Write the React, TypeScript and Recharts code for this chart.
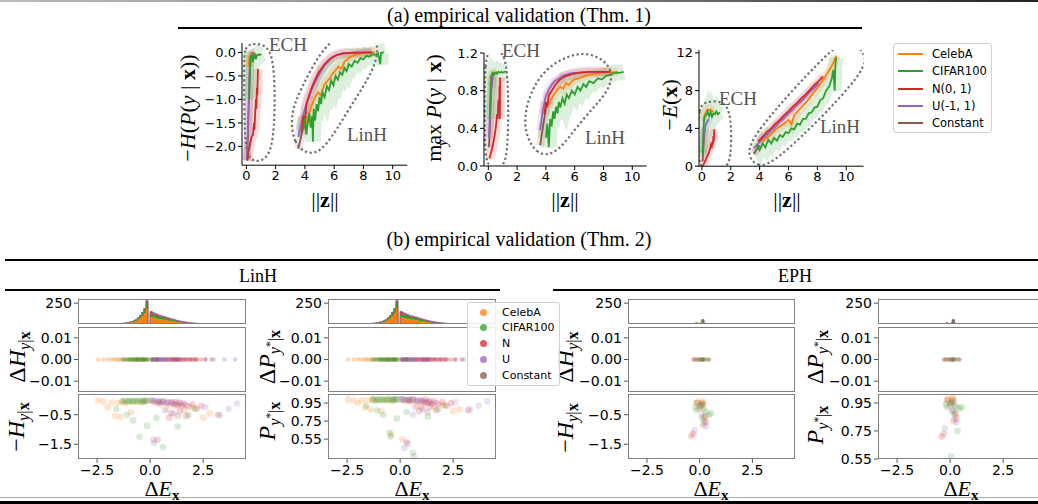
import React from 'react';
import { ComposedChart, Line, Scatter, Area, XAxis, YAxis } from 'recharts';

type Pt = [number, number];

const COLORS = { celeba: '#ff7f0e', cifar: '#2ca02c', n: '#d62728', u: '#9467bd', constant: '#8c564b' };
const SERIES_NAMES = ['CelebA', 'CIFAR100', 'N(0, 1)', 'U(-1, 1)', 'Constant'];
const SCATTER_NAMES = ['CelebA', 'CIFAR100', 'N', 'U', 'Constant'];
const SERIES_COLORS = [COLORS.celeba, COLORS.cifar, COLORS.n, COLORS.u, COLORS.constant];

const TOP_X_TICKS = [0, 2, 4, 6, 8, 10];
const NEGH_TICKS = [-2, -1.5, -1, -0.5, 0];
const MAXP_TICKS = [0, 0.4, 0.8, 1.2];
const NEGE_TICKS = [0, 4, 8, 12];

// ---------- (a) -H(P(y|x)) vs ||z|| ----------
const negH_ech_constant: Pt[] = [[0.05, -2.3], [0.1, -1.8], [0.15, -1.2], [0.2, -0.6], [0.25, -0.2], [0.3, -0.05], [0.4, 0]];
const negH_ech_celeba: Pt[] = [[0.15, -0.3], [0.2, -0.1], [0.3, -0.04], [0.4, -0.02], [0.5, -0.01], [0.6, 0]];
const negH_ech_cifar: Pt[] = [[0.2, -1.0], [0.25, -0.3], [0.3, -0.08], [0.35, -0.12], [0.4, -0.05], [0.45, -0.2], [0.5, -0.04], [0.55, -0.08], [0.6, -0.03], [0.65, -0.15], [0.7, -0.07], [0.8, -0.04], [0.9, -0.06], [1.0, -0.03]];
const negH_ech_n: Pt[] = [[0.08, -2.3], [0.15, -2.1], [0.25, -1.95], [0.35, -1.8], [0.45, -1.75], [0.52, -1.5], [0.55, -1.65], [0.6, -1.3], [0.65, -1.0], [0.68, -1.2], [0.72, -0.75], [0.75, -0.9], [0.78, -0.5], [0.8, -0.35]];
const negH_ech_u: Pt[] = [[0.04, -2.3], [0.08, -1.9], [0.11, -1.6], [0.14, -1.3], [0.18, -0.95], [0.21, -0.6], [0.25, -0.35], [0.3, -0.15], [0.35, -0.06], [0.45, -0.02], [0.55, -0.01]];
const negH_lin_constant: Pt[] = [[3.55, -2.05], [3.7, -1.85], [3.85, -1.6], [4.0, -1.35]];
const negH_lin_celeba: Pt[] = [[4.1, -1.5], [4.3, -1.28], [4.5, -1.1], [4.7, -0.95], [4.9, -0.85], [5.1, -0.92], [5.3, -0.7], [5.5, -0.62], [5.7, -0.55], [5.9, -0.45], [6.1, -0.38], [6.3, -0.3], [6.5, -0.35], [6.7, -0.2], [7.0, -0.12], [7.3, -0.07], [7.7, -0.03], [8.2, -0.01], [8.8, 0]];
const negH_lin_cifar: Pt[] = [[3.9, -1.65], [4.0, -1.4], [4.1, -1.75], [4.2, -1.5], [4.3, -1.3], [4.4, -1.6], [4.5, -1.35], [4.55, -1.9], [4.6, -1.2], [4.7, -1.45], [4.8, -1.1], [4.9, -1.25], [5.0, -0.95], [5.1, -1.1], [5.2, -0.85], [5.35, -0.95], [5.5, -0.72], [5.65, -0.8], [5.8, -0.6], [5.95, -0.7], [6.1, -0.5], [6.25, -0.58], [6.4, -0.42], [6.55, -0.48], [6.7, -0.33], [6.85, -0.4], [7.0, -0.25], [7.2, -0.3], [7.4, -0.18], [7.6, -0.22], [7.8, -0.12], [8.0, -0.15], [8.2, -0.07], [8.4, -0.09], [8.6, -0.04], [8.8, -0.05], [9.0, -0.02], [9.15, -0.25], [9.2, -0.01], [9.4, 0]];
const negH_lin_n: Pt[] = [[3.8, -1.7], [3.9, -1.35], [4.0, -1.5], [4.1, -1.1], [4.3, -0.9], [4.5, -0.72], [4.7, -0.58], [4.9, -0.45], [5.1, -0.36], [5.3, -0.27], [5.6, -0.17], [5.9, -0.1], [6.2, -0.05], [6.6, -0.02], [7.2, -0.01], [8.6, 0]];
const negH_lin_u: Pt[] = [[3.55, -1.8], [3.7, -1.6], [3.85, -1.38], [4.0, -1.2], [4.2, -1.02], [4.4, -0.85], [4.6, -0.7], [4.8, -0.57], [5.0, -0.45], [5.25, -0.32], [5.5, -0.22], [5.8, -0.13], [6.1, -0.07], [6.5, -0.03], [7.0, -0.01], [7.5, 0], [8.5, 0]];
const negH_outline_ech: Pt[] = [[-0.15, -0.3], [-0.15, 0.12], [0.5, 0.2], [1.5, 0.15], [1.95, -0.3], [1.95, -1.7], [1.5, -2.3], [0.3, -2.35], [-0.15, -2.0]];
const negH_outline_lin: Pt[] = [[3.0, -1.3], [3.2, -1.95], [4.3, -2.2], [5.4, -2.05], [7.0, -1.2], [8.8, -0.35], [9.1, 0.2], [8.3, 0.4], [6.5, 0.45], [5.0, 0.0], [3.7, -0.8]];

// ---------- (a) max_y P(y|x) vs ||z|| ----------
const maxP_ech_constant: Pt[] = [[0.05, 0.2], [0.1, 0.4], [0.15, 0.6], [0.2, 0.8], [0.3, 0.95]];
const maxP_ech_celeba: Pt[] = [[0.15, 0.85], [0.2, 0.95], [0.3, 0.98], [0.45, 0.99], [0.6, 1.0]];
const maxP_ech_cifar: Pt[] = [[0.1, 0.5], [0.15, 0.8], [0.2, 0.95], [0.3, 0.99], [0.4, 0.97], [0.5, 0.99], [0.6, 0.98], [0.7, 1.0], [0.8, 0.99], [0.9, 1.0], [1.0, 0.99], [1.1, 1.0], [1.3, 1.0]];
const maxP_ech_n: Pt[] = [[0.08, 0.08], [0.15, 0.12], [0.25, 0.18], [0.35, 0.25], [0.45, 0.33], [0.55, 0.45], [0.6, 0.55], [0.65, 0.5], [0.7, 0.7], [0.75, 0.6], [0.78, 0.85], [0.8, 0.5], [0.82, 0.94]];
const maxP_ech_u: Pt[] = [[0.04, 0.3], [0.08, 0.45], [0.12, 0.6], [0.16, 0.72], [0.2, 0.82], [0.25, 0.9], [0.3, 0.95], [0.4, 0.98], [0.55, 0.99]];
const maxP_lin_constant: Pt[] = [[3.6, 0.22], [3.7, 0.32], [3.8, 0.42], [3.9, 0.52], [4.0, 0.62]];
const maxP_lin_celeba: Pt[] = [[4.2, 0.65], [4.4, 0.72], [4.6, 0.77], [4.8, 0.81], [5.0, 0.84], [5.2, 0.82], [5.4, 0.88], [5.6, 0.86], [5.8, 0.9], [6.0, 0.92], [6.3, 0.93], [6.6, 0.95], [7.0, 0.97], [7.5, 0.98], [8.0, 0.99], [9.0, 1.0]];
const maxP_lin_cifar: Pt[] = [[4.0, 0.3], [4.1, 0.45], [4.2, 0.2], [4.3, 0.5], [4.4, 0.42], [4.5, 0.58], [4.6, 0.5], [4.7, 0.63], [4.8, 0.56], [4.9, 0.68], [5.0, 0.62], [5.15, 0.72], [5.3, 0.66], [5.45, 0.76], [5.6, 0.72], [5.8, 0.8], [6.0, 0.76], [6.2, 0.84], [6.4, 0.8], [6.6, 0.87], [6.8, 0.84], [7.0, 0.9], [7.3, 0.88], [7.6, 0.93], [7.9, 0.92], [8.2, 0.96], [8.5, 0.97], [8.8, 0.99], [9.1, 0.99], [9.4, 1.0]];
const maxP_lin_n: Pt[] = [[3.9, 0.55], [4.0, 0.68], [4.1, 0.62], [4.2, 0.75], [4.4, 0.8], [4.6, 0.85], [4.8, 0.89], [5.0, 0.92], [5.3, 0.95], [5.7, 0.97], [6.2, 0.99], [7.0, 1.0], [8.5, 1.0]];
const maxP_lin_u: Pt[] = [[3.6, 0.38], [3.7, 0.5], [3.8, 0.6], [3.9, 0.68], [4.0, 0.74], [4.2, 0.81], [4.4, 0.86], [4.6, 0.9], [4.9, 0.93], [5.2, 0.96], [5.6, 0.98], [6.0, 0.99], [7.0, 1.0], [8.2, 1.0]];
const maxP_outline_ech: Pt[] = [[-0.25, 0.6], [-0.25, 1.12], [0.1, 1.24], [0.9, 1.24], [1.4, 1.05], [1.4, 0.15], [1.0, -0.03], [0.1, -0.03], [-0.25, 0.1]];
const maxP_outline_lin: Pt[] = [[2.2, 0.45], [3.3, 0.1], [4.8, 0.12], [6.5, 0.5], [8.5, 0.8], [8.7, 1.06], [7.0, 1.22], [5.2, 1.16], [3.3, 0.95]];

// ---------- (a) -E(x) vs ||z|| ----------
const negE_ech_constant: Pt[] = [[0.05, 0.5], [0.1, 1.8], [0.15, 3.0], [0.2, 4.0]];
const negE_ech_celeba: Pt[] = [[0.1, 4.8], [0.2, 5.5], [0.3, 5.8], [0.4, 6.0], [0.5, 5.9], [0.6, 6.0], [0.7, 5.8], [0.8, 5.9]];
const negE_ech_cifar: Pt[] = [[0.05, 1.2], [0.1, 3.5], [0.15, 4.8], [0.2, 5.3], [0.3, 5.4], [0.4, 5.8], [0.5, 5.3], [0.6, 5.7], [0.7, 5.2], [0.8, 5.6], [0.9, 5.5], [1.0, 5.8], [1.1, 5.5], [1.25, 5.7]];
const negE_ech_n: Pt[] = [[0.05, 0.0], [0.15, 0.3], [0.25, 0.6], [0.35, 1.0], [0.45, 1.3], [0.55, 1.7], [0.62, 2.2], [0.68, 1.9], [0.72, 2.6], [0.76, 2.3], [0.8, 3.2], [0.83, 2.6], [0.86, 3.9]];
const negE_ech_u: Pt[] = [[0.04, 1.5], [0.08, 2.3], [0.12, 3.0], [0.17, 3.6], [0.22, 4.1], [0.3, 4.5], [0.4, 4.8], [0.5, 5.0]];
const negE_lin_constant: Pt[] = [[3.6, 1.3], [3.8, 1.8], [4.0, 2.2]];
const negE_lin_celeba: Pt[] = [[4.2, 2.6], [4.5, 3.0], [4.8, 3.4], [5.1, 3.9], [5.4, 4.2], [5.7, 4.5], [6.0, 4.9], [6.2, 4.4], [6.4, 5.4], [6.7, 5.9], [7.0, 6.4], [7.3, 6.9], [7.6, 7.5], [7.9, 8.1], [8.2, 8.7], [8.5, 9.4], [8.8, 10.1], [9.1, 10.9], [9.3, 11.7]];
const negE_lin_cifar: Pt[] = [[3.8, 2.3], [4.0, 1.7], [4.2, 2.4], [4.4, 2.0], [4.6, 2.8], [4.8, 2.4], [5.0, 3.0], [5.2, 2.7], [5.4, 3.3], [5.6, 3.1], [5.8, 3.6], [6.0, 3.5], [6.2, 4.0], [6.4, 3.9], [6.6, 4.5], [6.8, 4.4], [7.0, 5.0], [7.2, 5.0], [7.4, 5.6], [7.6, 5.7], [7.8, 6.2], [8.0, 6.3], [8.2, 7.0], [8.4, 7.2], [8.6, 8.0], [8.8, 8.4], [9.0, 9.3], [9.1, 10.2], [9.2, 8.0], [9.25, 10.8], [9.3, 11.5]];
const negE_lin_n: Pt[] = [[3.9, 2.6], [4.2, 3.1], [4.5, 3.6], [4.8, 4.0], [5.1, 4.5], [5.4, 4.9], [5.7, 5.4], [6.0, 5.8], [6.3, 6.3], [6.6, 6.7], [6.9, 7.2], [7.2, 7.6], [7.5, 8.1], [7.8, 8.6], [8.1, 9.0], [8.4, 9.5]];
const negE_lin_u: Pt[] = [[3.6, 1.9], [3.9, 2.4], [4.2, 2.9], [4.5, 3.3], [4.8, 3.8], [5.1, 4.2], [5.4, 4.7], [5.7, 5.1], [6.0, 5.6], [6.3, 6.0], [6.6, 6.5], [6.9, 6.9], [7.2, 7.4], [7.5, 7.9], [7.8, 8.3], [8.1, 8.8]];
const negE_outline_ech: Pt[] = [[-0.25, 3.0], [-0.25, 6.2], [0.3, 6.9], [1.5, 6.9], [2.05, 5.6], [2.05, 0.5], [1.5, -0.4], [0.1, -0.4], [-0.25, 0.5]];
const negE_outline_lin: Pt[] = [[3.2, 1.0], [3.8, 0.0], [5.0, 0.1], [11.3, 9.8], [11.4, 11.9], [10.3, 13.4], [9.3, 13.1], [3.3, 3.1]];

// ---------- (b) histogram of ΔE_x ----------
const histBins = [-1.95, -1.85, -1.75, -1.65, -1.55, -1.45, -1.35, -1.25, -1.15, -1.05, -0.95, -0.85, -0.75, -0.65, -0.55, -0.45, -0.35, -0.25, -0.15, -0.05, 0.05, 0.15, 0.25, 0.35, 0.45, 0.55, 0.65, 0.75, 0.85, 0.95, 1.05, 1.15, 1.25, 1.35, 1.45, 1.55, 1.65, 1.75, 1.85, 1.95, 2.05, 2.15, 2.25, 2.35, 2.45, 2.55, 2.65, 2.75, 2.85, 2.95];
const histCelebA = [1, 1, 2, 2, 3, 3, 5, 6, 8, 11, 15, 20, 27, 37, 50, 70, 95, 125, 190, 0, 85, 77, 70, 64, 58, 54, 50, 46, 42, 37, 33, 29, 25, 22, 19, 16, 13, 11, 9, 7, 6, 5, 4, 3, 2, 2, 1, 1, 1, 0];
const histCifar = [1, 1, 1, 1, 1, 2, 2, 3, 4, 5, 6, 9, 12, 16, 22, 31, 41, 55, 80, 0, 45, 40, 36, 33, 30, 27, 25, 23, 20, 18, 15, 13, 11, 9, 7, 6, 5, 4, 3, 3, 2, 2, 1, 1, 1, 0, 0, 0, 0, 0];
const histN = [0, 0, 0, 0, 0, 0, 0, 0, 0, 0, 1, 1, 1, 2, 3, 4, 4, 5, 10, 0, 13, 12, 11, 11, 10, 10, 9, 9, 8, 8, 7, 7, 6, 6, 5, 5, 4, 4, 3, 3, 2, 2, 2, 1, 1, 1, 1, 1, 1, 1];
const histU = [0, 0, 0, 0, 0, 0, 0, 0, 0, 0, 0, 0, 0, 0, 0, 0, 0, 0, 0, 0, 12, 11, 11, 10, 10, 9, 9, 8, 8, 7, 7, 6, 6, 5, 5, 4, 4, 3, 3, 2, 2, 1, 1, 1, 1, 1, 1, 0, 0, 0];

const ephBins = [-0.45, -0.35, -0.25, -0.15, -0.05, 0.05, 0.15, 0.25, 0.35, 0.45];
const ephCelebA = [0, 0, 3, 10, 0, 4, 8, 0, 0, 0];
const ephCifar = [0, 0, 0, 2, 0, 6, 40, 8, 2, 0];
const ephN = [0, 1, 0, 1, 0, 0, 3, 1, 0, 0];
const ephU = [0, 0, 1, 0, 0, 0, 2, 0, 0, 0];

// ---------- (b) middle rows: Δ values are all 0, only ΔE_x varies ----------
const linMidCelebA = [-2.45, -2.2, -2.0, -1.85, -1.7, -1.6, -1.5, -1.4, -1.3, -1.2, -1.1, -1.0, -0.9, -0.8, -0.7, -0.6, -0.5, -0.4, -0.3, -0.2, -0.1, 0.1, 0.3, 0.5, 0.7, 0.9, 1.1, 1.3, 1.6, 1.9, 2.2];
const linMidCifar = [-1.3, -1.2, -1.1, -1.0, -0.95, -0.9, -0.85, -0.8, -0.75, -0.7, -0.65, -0.6, -0.55, -0.5, -0.45, -0.4, -0.35, -0.3, -0.25, -0.2, -0.15, -0.1, 0.1, 0.2, 0.3, 0.4, 0.6];
const linMidN = [0.3, 0.5, 0.7, 0.8, 0.9, 1.0, 1.05, 1.1, 1.15, 1.2, 1.25, 1.3, 1.35, 1.4, 1.5, 1.6, 1.7, 1.8, 1.9, 2.0, 2.1, 2.2, 2.4, 2.6, 2.9];
const linMidU = [0.05, 0.1, 0.15, 0.2, 0.25, 0.3, 0.35, 0.4, 0.45, 0.5, 0.55, 0.6, 0.65, 0.7, 0.75, 0.8, 0.9, 1.0, 1.1, 1.2, 1.3, 1.4, 1.5, 1.7, 1.9, 2.1, 2.6, 3.0, 3.5, 4.0];
const linMidConstant = [-0.6, -0.3, 0.1, 0.3];
const ephMidCelebA = [-0.2, -0.1, 0.05, 0.1];
const ephMidCifar = [-0.15, 0.0, 0.1, 0.2, 0.3, 0.4];
const ephMidN = [-0.3, 0.2, 0.45];
const ephMidU = [-0.25, 0.15];
const ephMidConstant = [-0.05, 0.12];

// ---------- (b) bottom rows ----------
const linH_celeba: Pt[] = [[-2.45, -0.02], [-2.2, -0.05], [-2.0, -0.25], [-1.8, -0.08], [-1.65, -0.55], [-1.5, -0.1], [-1.4, -0.58], [-1.3, -0.05], [-1.2, -0.12], [-1.0, -0.06], [-0.9, -0.42], [-0.8, -0.08], [-0.6, -0.05], [-0.4, -0.1], [-0.2, -0.04], [0.2, -0.1], [0.5, -0.15], [0.8, -0.3], [1.2, -0.2], [1.6, -0.35], [2.0, -0.25], [2.5, -0.6], [2.8, -0.45]];
const linH_cifar: Pt[] = [[-1.3, -0.05], [-1.2, -0.03], [-1.1, -0.06], [-1.0, -0.02], [-0.9, -0.04], [-0.8, -0.05], [-0.7, -0.02], [-0.6, -0.06], [-0.5, -0.03], [-0.4, -0.05], [-0.3, -0.02], [-0.2, -0.04], [-0.1, -0.03], [-1.6, -0.3], [-1.1, -0.5], [-0.8, -0.7], [-0.5, -1.25], [-0.15, -0.88], [0.3, -0.6], [0.6, -1.6], [1.3, -0.9], [1.8, -0.5], [2.1, -0.3]];
const linH_n: Pt[] = [[0.4, -0.1], [0.6, -0.05], [0.8, -0.12], [1.0, -0.08], [1.1, -0.15], [1.2, -0.06], [1.3, -0.18], [1.4, -0.1], [1.5, -0.2], [1.6, -0.12], [1.8, -0.22], [2.0, -0.15], [2.2, -0.3], [2.4, -0.2], [1.0, -0.45], [1.4, -0.38], [0.9, -0.6], [1.7, -0.55], [3.2, -0.5], [0.35, -1.35]];
const linH_u: Pt[] = [[0.05, -0.02], [0.15, -0.04], [0.25, -0.03], [0.35, -0.06], [0.45, -0.04], [0.55, -0.08], [0.65, -0.05], [0.75, -0.1], [0.85, -0.06], [0.95, -0.12], [1.05, -0.09], [1.2, -0.14], [1.35, -0.1], [1.5, -0.16], [1.7, -0.18], [0.7, -0.35], [1.1, -0.45], [0.2, -1.45], [0.15, -1.35], [3.3, -0.52], [4.1, -0.12], [3.7, -0.3], [2.6, -0.25]];
const linH_constant: Pt[] = [[-0.3, -0.05], [0.1, -0.02], [0.4, -0.08], [1.3, -0.55]];

const linP_celeba: Pt[] = [[-2.45, 0.99], [-2.2, 0.98], [-2.0, 0.95], [-1.8, 0.98], [-1.65, 0.9], [-1.5, 0.98], [-1.4, 0.88], [-1.3, 0.99], [-1.2, 0.97], [-1.0, 0.98], [-0.9, 0.86], [-0.8, 0.98], [-0.6, 0.99], [-0.4, 0.97], [-0.2, 0.99], [0.2, 0.97], [0.5, 0.96], [0.8, 0.92], [1.2, 0.95], [1.6, 0.9], [2.0, 0.93], [2.5, 0.86], [2.8, 0.88], [0.1, 0.55], [-0.4, 0.6]];
const linP_cifar: Pt[] = [[-1.3, 0.99], [-1.2, 0.99], [-1.1, 0.98], [-1.0, 0.99], [-0.9, 0.99], [-0.8, 0.98], [-0.7, 0.99], [-0.6, 0.98], [-0.5, 0.99], [-0.4, 0.99], [-0.3, 0.98], [-0.2, 0.99], [-0.1, 0.99], [-1.6, 0.92], [-1.1, 0.87], [-0.8, 0.82], [-0.5, 0.62], [-0.15, 0.78], [0.3, 0.85], [0.6, 0.4], [1.3, 0.8], [1.8, 0.88], [2.1, 0.92], [-0.45, 0.58]];
const linP_n: Pt[] = [[0.4, 0.98], [0.6, 0.99], [0.8, 0.97], [1.0, 0.98], [1.1, 0.96], [1.2, 0.99], [1.3, 0.95], [1.4, 0.97], [1.5, 0.94], [1.6, 0.97], [1.8, 0.94], [2.0, 0.96], [2.2, 0.92], [2.4, 0.95], [1.0, 0.9], [1.4, 0.91], [0.9, 0.86], [1.7, 0.87], [3.2, 0.87], [0.35, 0.5]];
const linP_u: Pt[] = [[0.05, 0.99], [0.15, 0.99], [0.25, 0.99], [0.35, 0.98], [0.45, 0.99], [0.55, 0.98], [0.65, 0.99], [0.75, 0.97], [0.85, 0.98], [0.95, 0.97], [1.05, 0.97], [1.2, 0.96], [1.35, 0.97], [1.5, 0.95], [1.7, 0.95], [0.7, 0.9], [1.1, 0.88], [0.2, 0.45], [0.3, 0.52], [3.3, 0.88], [4.1, 0.97], [3.7, 0.92], [2.6, 0.96], [0.6, 0.82], [0.65, 0.36]];
const linP_constant: Pt[] = [[-0.3, 0.99], [0.1, 0.99], [0.4, 0.98], [1.3, 0.85]];

const ephH_celeba: Pt[] = [[-0.15, -0.1], [-0.1, -0.08], [0.1, -0.1], [0.15, -0.05], [0.2, -0.15], [0.25, -0.6], [0.15, -0.85]];
const ephH_cifar: Pt[] = [[-0.2, -0.25], [-0.15, -0.35], [0.0, -0.2], [0.1, -0.15], [0.2, -0.3], [0.3, -0.4], [0.45, -0.5], [0.55, -0.45], [0.2, -0.7], [0.1, -0.6]];
const ephH_n: Pt[] = [[-0.4, -1.22], [-0.3, -1.15], [0.25, -0.55], [0.3, -0.75], [0.0, -0.3]];
const ephH_u: Pt[] = [[-0.25, -1.02], [0.2, -0.8], [0.3, -0.9], [0.1, -0.5]];
const ephH_constant: Pt[] = [[-0.12, -0.1], [0.12, -0.12], [0.08, -0.2]];

const ephP_celeba: Pt[] = [[-0.15, 0.97], [-0.1, 0.98], [0.1, 0.98], [0.15, 0.99], [0.2, 0.96], [0.25, 0.86], [0.15, 0.82]];
const ephP_cifar: Pt[] = [[-0.2, 0.94], [-0.15, 0.92], [0.0, 0.95], [0.1, 0.96], [0.2, 0.93], [0.3, 0.92], [0.45, 0.91], [0.55, 0.92], [0.2, 0.87], [0.1, 0.89], [0.05, 0.57], [0.35, 0.75]];
const ephP_n: Pt[] = [[-0.4, 0.71], [-0.3, 0.73], [0.25, 0.88], [0.3, 0.84], [0.0, 0.93]];
const ephP_u: Pt[] = [[-0.25, 0.77], [0.2, 0.83], [0.3, 0.81], [0.1, 0.9]];
const ephP_constant: Pt[] = [[-0.12, 0.97], [0.12, 0.97], [0.08, 0.95]];

const B_X_TICKS = [-2.5, 0, 2.5];
const HIST_TICKS = [250];
const MID_TICKS = [-0.01, 0, 0.01];
const H_TICKS = [-1.5, -0.5];
const P_TICKS_LIN = [0.55, 0.75, 0.95];
const P_TICKS_EPH = [0.55, 0.75, 0.95];

// ---------- helpers ----------
const SANS = '"DejaVu Sans", sans-serif';
const SERIF = '"Liberation Serif", "DejaVu Serif", serif';
const fmt = (d: number) => (v: number) => (v < 0 ? '\u2212' : '') + Math.abs(v).toFixed(d);
const toObjs = (p: Pt[]) => p.map(([x, y]) => ({ x, y }));

type Rect = { l: number; r: number; t: number; b: number };

type TopSeries = { color: string; ech: Pt[]; lin: Pt[]; band: number };

function TopPanel(props: {
  plot: Rect; xDomain: [number, number]; yDomain: [number, number]; yTicks: number[]; yDec: number;
  series: TopSeries[]; outlines: Pt[][];
}) {
  const { plot, xDomain, yDomain, yTicks, yDec, series, outlines } = props;
  const yw = 52, mt = 14, mr = 10, xh = 26;
  const width = plot.r - plot.l + yw + mr;
  const height = plot.b - plot.t + mt + xh;
  const els: React.ReactElement[] = [];
  series.forEach((s, i) => {
    [s.ech, s.lin].forEach((pts, j) => {
      els.push(<Line key={`b${i}-${j}`} data={toObjs(pts)} dataKey="y" type="linear" stroke={s.color} strokeOpacity={0.16} strokeWidth={s.band} dot={false} isAnimationActive={false} />);
    });
  });
  series.forEach((s, i) => {
    [s.ech, s.lin].forEach((pts, j) => {
      els.push(<Line key={`l${i}-${j}`} data={toObjs(pts)} dataKey="y" type="linear" stroke={s.color} strokeWidth={1.8} dot={false} isAnimationActive={false} />);
    });
  });
  outlines.forEach((o, i) => {
    els.push(<Line key={`o${i}`} data={toObjs(o)} dataKey="y" type="basisClosed" stroke="#6e6e6e" strokeWidth={2.2} strokeDasharray="2.2 2.6" dot={false} isAnimationActive={false} />);
  });
  return (
    <div style={{ position: 'absolute', left: plot.l - yw, top: plot.t - mt }}>
      <ComposedChart width={width} height={height} margin={{ top: mt, right: mr, left: 0, bottom: 0 }}>
        <XAxis type="number" dataKey="x" domain={xDomain} allowDataOverflow ticks={TOP_X_TICKS} interval={0} height={xh}
          tickSize={4} axisLine={{ stroke: '#000' }} tickLine={{ stroke: '#000' }}
          tick={{ fill: '#000', fontSize: 13, fontFamily: SANS }} />
        <YAxis type="number" dataKey="y" domain={yDomain} allowDataOverflow ticks={yTicks} interval={0} width={yw}
          tickSize={4} axisLine={{ stroke: '#000' }} tickLine={{ stroke: '#000' }} tickFormatter={fmt(yDec)}
          tick={{ fill: '#000', fontSize: 13, fontFamily: SANS }} />
        {els}
      </ComposedChart>
    </div>
  );
}

const B_X_DOMAIN: [number, number] = [-3.4, 4.52];
const GRAY = '#808080';

function BottomPanel(props: {
  plot: Rect; yDomain: [number, number]; yTicks: number[]; yFmt: (v: number) => string; showX: boolean;
  data?: any[]; children: React.ReactElement[];
}) {
  const { plot, yDomain, yTicks, yFmt, showX, data, children } = props;
  const yw = 72, mt = 10, mr = 2;
  const xh = showX ? 24 : 5;
  const width = plot.r - plot.l + yw + mr;
  const height = plot.b - plot.t + mt + xh;
  return (
    <>
      <div style={{ position: 'absolute', left: plot.l - yw, top: plot.t - mt }}>
        <ComposedChart width={width} height={height} data={data} margin={{ top: mt, right: mr, left: 0, bottom: 0 }}>
          <XAxis type="number" dataKey="x" domain={B_X_DOMAIN} allowDataOverflow ticks={B_X_TICKS} interval={0} height={xh}
            tickSize={4} axisLine={false} tickLine={{ stroke: '#555' }} tickFormatter={fmt(1)}
            tick={showX ? { fill: '#000', fontSize: 14, fontFamily: SANS } : false} />
          <YAxis type="number" dataKey="y" domain={yDomain} allowDataOverflow ticks={yTicks} interval={0} width={yw}
            tickSize={4} axisLine={false} tickLine={{ stroke: '#555' }} tickFormatter={yFmt}
            tick={{ fill: '#000', fontSize: 14, fontFamily: SANS }} />
          {children}
        </ComposedChart>
      </div>
      <div style={{ position: 'absolute', left: plot.l, top: plot.t, width: plot.r - plot.l, height: plot.b - plot.t, border: `1px solid ${GRAY}`, boxSizing: 'border-box', pointerEvents: 'none' }} />
    </>
  );
}

function histRows(bins: number[], a: number[], b: number[], c: number[], d: number[]) {
  return bins.map((x, i) => ({ x, celeba: a[i], cifar: b[i], n: c[i], u: d[i] }));
}

function histAreas() {
  return ['celeba', 'cifar', 'n', 'u'].map((k, i) => (
    <Area key={k} dataKey={k} stackId="h" type="step" fill={SERIES_COLORS[i]} fillOpacity={1} stroke={SERIES_COLORS[i]} strokeWidth={0.5} dot={false} activeDot={false} isAnimationActive={false} />
  ));
}

function dotShape(color: string, r: number, op: number) {
  return (p: any) => <circle cx={p.cx} cy={p.cy} r={r} fill={color} fillOpacity={op} />;
}

function midScatter(xs: number[][]) {
  return xs.map((arr, i) => (
    <Scatter key={`m${i}`} data={arr.map((x) => ({ x, y: 0 }))} dataKey="y" shape={dotShape(SERIES_COLORS[i], 2.2, 0.3)} isAnimationActive={false} />
  ));
}

function ptScatter(sets: Pt[][], op: number) {
  return sets.map((arr, i) => (
    <Scatter key={`p${i}`} data={toObjs(arr)} dataKey="y" shape={dotShape(SERIES_COLORS[i], 3.3, op)} isAnimationActive={false} />
  ));
}

// ---------- text helpers ----------
const I = ({ children }: { children: React.ReactNode }) => <span style={{ fontStyle: 'italic' }}>{children}</span>;
const Bf = ({ children }: { children: React.ReactNode }) => <span style={{ fontWeight: 'bold' }}>{children}</span>;
const Sub = ({ children }: { children: React.ReactNode }) => (
  <span style={{ fontSize: '0.68em', position: 'relative', top: '0.3em' }}>{children}</span>
);

function RotLabel({ cx, cy, size, children }: { cx: number; cy: number; size: number; children: React.ReactNode }) {
  return (
    <div style={{ position: 'absolute', left: cx, top: cy, transform: 'translate(-50%, -50%) rotate(-90deg)', whiteSpace: 'nowrap', fontFamily: SERIF, fontSize: size, lineHeight: 1, color: '#000' }}>
      {children}
    </div>
  );
}

function TextAt({ cx, cy, size, color = '#000', family = SERIF, children }: { cx: number; cy: number; size: number; color?: string; family?: string; children: React.ReactNode }) {
  return (
    <div style={{ position: 'absolute', left: cx, top: cy, transform: 'translate(-50%, -50%)', whiteSpace: 'nowrap', fontFamily: family, fontSize: size, lineHeight: 1, color }}>
      {children}
    </div>
  );
}

function HLine({ x1, x2, y, w = 2, color = '#000' }: { x1: number; x2: number; y: number; w?: number; color?: string }) {
  return <div style={{ position: 'absolute', left: x1, top: y - w / 2, width: x2 - x1, height: w, background: color }} />;
}

const normZ = (
  <span>||<Bf>z</Bf>||</span>
);
const dE = (
  <span>Δ<I>E</I><Sub><Bf>x</Bf></Sub></span>
);

export default function App() {
  const topSeries1: TopSeries[] = [
    { color: COLORS.constant, ech: negH_ech_constant, lin: negH_lin_constant, band: 8 },
    { color: COLORS.celeba, ech: negH_ech_celeba, lin: negH_lin_celeba, band: 9 },
    { color: COLORS.u, ech: negH_ech_u, lin: negH_lin_u, band: 8 },
    { color: COLORS.n, ech: negH_ech_n, lin: negH_lin_n, band: 10 },
    { color: COLORS.cifar, ech: negH_ech_cifar, lin: negH_lin_cifar, band: 16 },
  ];
  const topSeries2: TopSeries[] = [
    { color: COLORS.constant, ech: maxP_ech_constant, lin: maxP_lin_constant, band: 8 },
    { color: COLORS.celeba, ech: maxP_ech_celeba, lin: maxP_lin_celeba, band: 9 },
    { color: COLORS.u, ech: maxP_ech_u, lin: maxP_lin_u, band: 8 },
    { color: COLORS.n, ech: maxP_ech_n, lin: maxP_lin_n, band: 10 },
    { color: COLORS.cifar, ech: maxP_ech_cifar, lin: maxP_lin_cifar, band: 16 },
  ];
  const topSeries3: TopSeries[] = [
    { color: COLORS.constant, ech: negE_ech_constant, lin: negE_lin_constant, band: 8 },
    { color: COLORS.u, ech: negE_ech_u, lin: negE_lin_u, band: 8 },
    { color: COLORS.n, ech: negE_ech_n, lin: negE_lin_n, band: 8 },
    { color: COLORS.celeba, ech: negE_ech_celeba, lin: negE_lin_celeba, band: 9 },
    { color: COLORS.cifar, ech: negE_ech_cifar, lin: negE_lin_cifar, band: 14 },
  ];

  const linHist = histRows(histBins, histCelebA, histCifar, histN, histU);
  const ephHist = histRows(ephBins, ephCelebA, ephCifar, ephN, ephU);

  const cols = [
    { l: 78, r: 246 },
    { l: 328, r: 496 },
    { l: 628, r: 795 },
    { l: 878, r: 1046 },
  ];
  const rows = { hist: [299, 324], mid: [327, 392], bot: [394, 459] };
  const R = (c: { l: number; r: number }, row: number[]): Rect => ({ l: c.l, r: c.r, t: row[0], b: row[1] });

  const linMid = [linMidCelebA, linMidCifar, linMidN, linMidU, linMidConstant];
  const ephMid = [ephMidCelebA, ephMidCifar, ephMidN, ephMidU, ephMidConstant];

  return (
    <div style={{ position: 'absolute', left: 0, top: 0, width: 1038, height: 504, overflow: 'hidden', background: '#fff' }}>
      {/* frame lines */}
      <div style={{ position: 'absolute', left: 0, top: 0, width: 1038, height: 2, background: 'linear-gradient(to right, #bbb, #777 60%, #222)' }} />
      <TextAt cx={519} cy={15} size={20}>(a) empirical validation (Thm. 1)</TextAt>
      <HLine x1={178} x2={862} y={28} w={2} />
      <TextAt cx={519} cy={239} size={20}>(b) empirical validation (Thm. 2)</TextAt>
      <HLine x1={5} x2={1038} y={260} w={2} />
      <TextAt cx={258} cy={276} size={18}>LinH</TextAt>
      <TextAt cx={795} cy={276} size={18}>EPH</TextAt>
      <HLine x1={5} x2={500} y={290} w={2} />
      <HLine x1={553} x2={1038} y={290} w={2} />
      <HLine x1={0} x2={1038} y={497} w={1} color="#aaa" />
      <HLine x1={0} x2={1038} y={502} w={3} />

      {/* (a) panels */}
      <TopPanel plot={{ l: 242.3, r: 407.6, t: 42.9, b: 165.1 }} xDomain={[-0.3, 11]} yDomain={[-2.4, 0.2]} yTicks={NEGH_TICKS} yDec={1}
        series={topSeries1} outlines={[negH_outline_ech, negH_outline_lin]} />
      <TopPanel plot={{ l: 484.2, r: 646.9, t: 52.7, b: 165.7 }} xDomain={[-0.3, 11]} yDomain={[0, 1.2]} yTicks={MAXP_TICKS} yDec={1}
        series={topSeries2} outlines={[maxP_outline_ech, maxP_outline_lin]} />
      <TopPanel plot={{ l: 699.4, r: 864, t: 49.5, b: 165.7 }} xDomain={[-0.2, 11.2]} yDomain={[0, 12.3]} yTicks={NEGE_TICKS} yDec={0}
        series={topSeries3} outlines={[negE_outline_ech, negE_outline_lin]} />

      <TextAt cx={288} cy={44} size={19} color="#555">ECH</TextAt>
      <TextAt cx={367} cy={134} size={19} color="#555">LinH</TextAt>
      <TextAt cx={521} cy={50} size={19} color="#555">ECH</TextAt>
      <TextAt cx={605} cy={137} size={19} color="#555">LinH</TextAt>
      <TextAt cx={738} cy={98} size={19} color="#555">ECH</TextAt>
      <TextAt cx={840} cy={126} size={19} color="#555">LinH</TextAt>

      <RotLabel cx={188} cy={108} size={22}><span>−<I>H</I>(<I>P</I>(<I>y</I> | <Bf>x</Bf>))</span></RotLabel>
      <RotLabel cx={434} cy={108} size={22}>
        <span>
          <span style={{ display: 'inline-block', position: 'relative' }}>
            max
            <span style={{ position: 'absolute', left: '50%', top: '0.85em', transform: 'translateX(-50%)', fontSize: '0.65em', fontStyle: 'italic' }}>y</span>
          </span>{' '}<I>P</I>(<I>y</I> | <Bf>x</Bf>)
        </span>
      </RotLabel>
      <RotLabel cx={670} cy={105} size={22}><span>−<I>E</I>(<Bf>x</Bf>)</span></RotLabel>
      <TextAt cx={325} cy={200} size={22}>{normZ}</TextAt>
      <TextAt cx={565} cy={200} size={22}>{normZ}</TextAt>
      <TextAt cx={787} cy={200} size={22}>{normZ}</TextAt>

      {/* legend (a) */}
      <div style={{ position: 'absolute', left: 893, top: 43, width: 99, height: 90, border: '1px solid #d0d0d0', borderRadius: 3, boxSizing: 'border-box', background: '#fff' }}>
        {SERIES_NAMES.map((n, i) => (
          <div key={n} style={{ position: 'absolute', left: 4, top: 3 + i * 17.3, height: 14, display: 'flex', alignItems: 'center' }}>
            <div style={{ width: 25, height: 2, background: SERIES_COLORS[i] }} />
            <span style={{ marginLeft: 9, fontFamily: SANS, fontSize: 11.5, color: '#000' }}>{n}</span>
          </div>
        ))}
      </div>

      {/* (b) column 1: LinH, H */}
      <BottomPanel plot={R(cols[0], rows.hist)} yDomain={[0, 300]} yTicks={HIST_TICKS} yFmt={fmt(0)} showX={false} data={linHist}>{histAreas()}</BottomPanel>
      <BottomPanel plot={R(cols[0], rows.mid)} yDomain={[-0.015, 0.015]} yTicks={MID_TICKS} yFmt={fmt(2)} showX={false}>{midScatter(linMid)}</BottomPanel>
      <BottomPanel plot={R(cols[0], rows.bot)} yDomain={[-2.0, 0.2]} yTicks={H_TICKS} yFmt={fmt(1)} showX={true}>{ptScatter([linH_celeba, linH_cifar, linH_n, linH_u, linH_constant], 0.2)}</BottomPanel>

      {/* column 2: LinH, P */}
      <BottomPanel plot={R(cols[1], rows.hist)} yDomain={[0, 300]} yTicks={HIST_TICKS} yFmt={fmt(0)} showX={false} data={linHist}>{histAreas()}</BottomPanel>
      <BottomPanel plot={R(cols[1], rows.mid)} yDomain={[-0.015, 0.015]} yTicks={MID_TICKS} yFmt={fmt(2)} showX={false}>{midScatter(linMid)}</BottomPanel>
      <BottomPanel plot={R(cols[1], rows.bot)} yDomain={[0.33, 1.05]} yTicks={P_TICKS_LIN} yFmt={fmt(2)} showX={true}>{ptScatter([linP_celeba, linP_cifar, linP_n, linP_u, linP_constant], 0.2)}</BottomPanel>

      {/* column 3: EPH, H */}
      <BottomPanel plot={R(cols[2], rows.hist)} yDomain={[0, 300]} yTicks={HIST_TICKS} yFmt={fmt(0)} showX={false} data={ephHist}>{histAreas()}</BottomPanel>
      <BottomPanel plot={R(cols[2], rows.mid)} yDomain={[-0.015, 0.015]} yTicks={MID_TICKS} yFmt={fmt(2)} showX={false}>{midScatter(ephMid)}</BottomPanel>
      <BottomPanel plot={R(cols[2], rows.bot)} yDomain={[-2.0, 0.2]} yTicks={H_TICKS} yFmt={fmt(1)} showX={true}>{ptScatter([ephH_celeba, ephH_cifar, ephH_n, ephH_u, ephH_constant], 0.2)}</BottomPanel>

      {/* column 4: EPH, P */}
      <BottomPanel plot={R(cols[3], rows.hist)} yDomain={[0, 300]} yTicks={HIST_TICKS} yFmt={fmt(0)} showX={false} data={ephHist}>{histAreas()}</BottomPanel>
      <BottomPanel plot={R(cols[3], rows.mid)} yDomain={[-0.015, 0.015]} yTicks={MID_TICKS} yFmt={fmt(2)} showX={false}>{midScatter(ephMid)}</BottomPanel>
      <BottomPanel plot={R(cols[3], rows.bot)} yDomain={[0.55, 1.014]} yTicks={P_TICKS_EPH} yFmt={fmt(2)} showX={true}>{ptScatter([ephP_celeba, ephP_cifar, ephP_n, ephP_u, ephP_constant], 0.2)}</BottomPanel>

      {/* labels (b) */}
      <RotLabel cx={17} cy={357} size={24}><span>Δ<I>H</I><Sub><I>y</I>|<Bf>x</Bf></Sub></span></RotLabel>
      <RotLabel cx={16} cy={427} size={24}><span>−<I>H</I><Sub><I>y</I>|<Bf>x</Bf></Sub></span></RotLabel>
      <RotLabel cx={267} cy={357} size={24}><span>Δ<I>P</I><Sub><I>y</I><sup style={{ fontSize: '0.7em' }}>*</sup>|<Bf>x</Bf></Sub></span></RotLabel>
      <RotLabel cx={267} cy={421} size={24}><span><I>P</I><Sub><I>y</I><sup style={{ fontSize: '0.7em' }}>*</sup>|<Bf>x</Bf></Sub></span></RotLabel>
      <RotLabel cx={565} cy={357} size={24}><span>Δ<I>H</I><Sub><I>y</I>|<Bf>x</Bf></Sub></span></RotLabel>
      <RotLabel cx={565} cy={428} size={24}><span>−<I>H</I><Sub><I>y</I>|<Bf>x</Bf></Sub></span></RotLabel>
      <RotLabel cx={815} cy={357} size={24}><span>Δ<I>P</I><Sub><I>y</I><sup style={{ fontSize: '0.7em' }}>*</sup>|<Bf>x</Bf></Sub></span></RotLabel>
      <RotLabel cx={815} cy={425} size={24}><span><I>P</I><Sub><I>y</I><sup style={{ fontSize: '0.7em' }}>*</sup>|<Bf>x</Bf></Sub></span></RotLabel>
      <TextAt cx={162} cy={489} size={22}>{dE}</TextAt>
      <TextAt cx={412} cy={489} size={22}>{dE}</TextAt>
      <TextAt cx={711} cy={489} size={22}>{dE}</TextAt>
      <TextAt cx={961} cy={489} size={22}>{dE}</TextAt>

      {/* legend (b) */}
      <div style={{ position: 'absolute', left: 467, top: 302, width: 93, height: 84, border: '1px solid #d0d0d0', borderRadius: 3, boxSizing: 'border-box', background: 'rgba(255,255,255,0.85)' }}>
        {SCATTER_NAMES.map((n, i) => (
          <div key={n} style={{ position: 'absolute', left: 12, top: 2 + i * 15.8, height: 14, display: 'flex', alignItems: 'center' }}>
            <div style={{ width: 7, height: 7, borderRadius: '50%', background: SERIES_COLORS[i], opacity: 0.75 }} />
            <span style={{ marginLeft: 15, fontFamily: SANS, fontSize: 11, color: '#000' }}>{n}</span>
          </div>
        ))}
      </div>
    </div>
  );
}
